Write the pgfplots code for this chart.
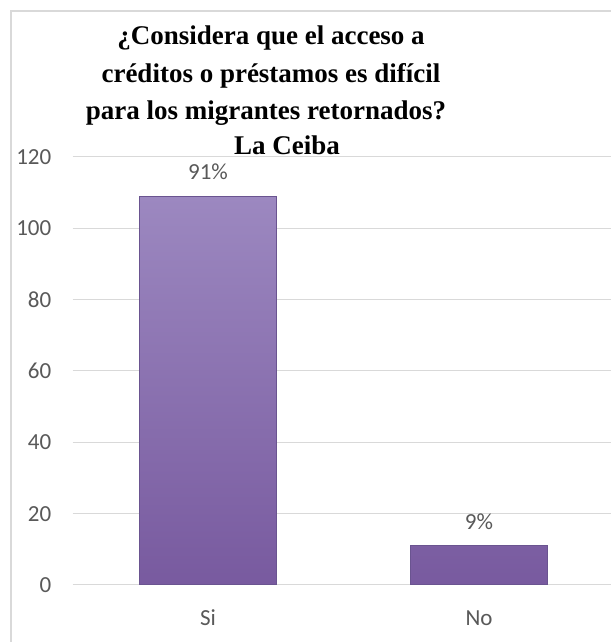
\documentclass[border=0pt]{standalone}
\usepackage{pgfplots}
\pgfplotsset{compat=1.18}
\usepackage{fontspec}
\setmainfont{Carlito}
\newfontfamily\titlefont{Liberation Serif}
\definecolor{gridc}{HTML}{D9D9D9}
\definecolor{txtc}{HTML}{595959}
\definecolor{bartop}{HTML}{9C88C0}
\definecolor{barbot}{HTML}{785A9F}
\definecolor{baredge}{HTML}{6A5490}
\begin{document}
\begin{tikzpicture}
\useasboundingbox (0,0) rectangle (610pt,642pt);
\fill[white] (0,0) rectangle (610pt,642pt);
\draw[gridc, line width=1.2pt] (11pt,-20pt) -- (11pt,631pt) -- (640pt,631pt);
\begin{axis}[
  at={(72.5pt,57pt)}, anchor=south west,
  scale only axis, width=542pt, height=428pt,
  xmin=-0.5, xmax=1.5, ymin=0, ymax=120,
  ytick={0,20,...,120},
  xtick=data, xticklabels={Si,No},
  axis line style={draw=none},
  major tick length=0pt,
  ymajorgrids, grid style={gridc, line width=1pt},
  /pgf/number format/assume math mode=true,
  tick label style={font=\fontsize{23}{26}\selectfont, text=txtc},
  yticklabel style={anchor=east, inner sep=0pt, xshift=-21pt},
  xticklabel style={anchor=center, inner sep=0pt, yshift=-33pt},
  ybar, bar width=137pt,
  nodes near coords, point meta=explicit symbolic,
  nodes near coords style={anchor=center, yshift=24pt, font=\fontsize{23}{26}\selectfont, text=txtc},
  clip=false,
]
\addplot[draw=baredge, line width=1pt, top color=bartop, bottom color=barbot]
  coordinates {(0,109) [91\%] (1,11) [9\%]};
\end{axis}
\begin{scope}[font=\titlefont\bfseries\fontsize{27}{30}\selectfont]
\node[anchor=base, inner sep=0pt] at (271pt,597pt) {¿Considera que el acceso a};
\node[anchor=base, inner sep=0pt] at (271pt,559pt) {créditos o préstamos es difícil};
\node[anchor=base, inner sep=0pt] at (266pt,522pt) {para los migrantes retornados?};
\node[anchor=base, inner sep=0pt] at (287pt,487pt) {La Ceiba};
\end{scope}
\end{tikzpicture}
\end{document}
